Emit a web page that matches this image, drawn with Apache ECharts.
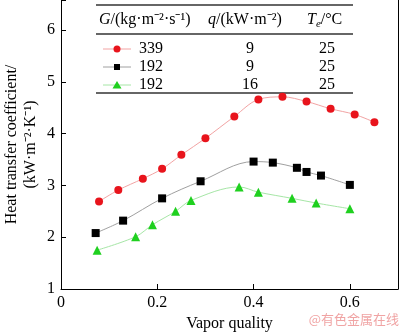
<!DOCTYPE html>
<html>
<head>
<meta charset="utf-8">
<script src="https://cdn.jsdelivr.net/npm/echarts@6/dist/echarts.min.js"></script>
<style>
  html, body { margin: 0; padding: 0; background: #fff; }
  #chart { width: 400px; height: 333px; }
</style>
</head>
<body>
<div id="chart"></div>
<script>
// Vapor quality (x) and heat transfer coefficient (kW·m^-2·K^-1) for each test condition
const qualityA = [0.079, 0.119, 0.170, 0.210, 0.250, 0.300, 0.360, 0.410, 0.460, 0.510, 0.560, 0.610, 0.651];
const htcA     = [2.69, 2.91, 3.13, 3.32, 3.59, 3.91, 4.33, 4.66, 4.71, 4.62, 4.48, 4.37, 4.22];

const qualityB = [0.072, 0.129, 0.210, 0.290, 0.400, 0.440, 0.490, 0.510, 0.540, 0.600];
const htcB     = [2.08, 2.32, 2.75, 3.08, 3.46, 3.44, 3.34, 3.26, 3.19, 3.01];

const qualityC = [0.075, 0.155, 0.190, 0.238, 0.270, 0.370, 0.410, 0.480, 0.530, 0.600];
const htcC     = [1.75, 2.01, 2.24, 2.50, 2.71, 2.97, 2.87, 2.75, 2.66, 2.55];

// Uncertainty bar on one point of the G = 192, q = 9 series
const errQuality = [0.490];
const errLow     = [3.30];
const errHigh    = [3.40];

// Legend table rows: G, q, Te
const massFlux = ['339', '192', '192'];
const heatFlux = ['9', '9', '16'];
const satTemp  = ['25', '25', '25'];

const xTicks = [0, 0.2, 0.4, 0.6];
const yTicks = [1, 2, 3, 4, 5, 6];

const zip = (xs, ys) => xs.map((x, i) => [x, ys[i]]);

const serif = 'Liberation Serif';
const markerColors = ['#e8141c', '#000000', '#1fd01f'];
const lineColors = ['#f2a3a3', '#a0a0a0', '#a6e6a6'];
const symbols = ['circle', 'rect', 'triangle'];
const symbolSizes = [8, 8, 9];

const chart = echarts.init(document.getElementById('chart'));

// Legend table drawn as graphics
const tableLeft = 96, tableRight = 353;
const rowY = [49, 67, 85];
const graphics = [
  { type: 'line', shape: { x1: tableLeft, y1: 5, x2: tableRight, y2: 5 }, style: { stroke: '#333', lineWidth: 1.5 } },
  { type: 'line', shape: { x1: tableLeft, y1: 34, x2: tableRight, y2: 34 }, style: { stroke: '#333', lineWidth: 1.5 } },
  { type: 'line', shape: { x1: tableLeft, y1: 93, x2: tableRight, y2: 93 }, style: { stroke: '#333', lineWidth: 1.5 } },
  {
    type: 'text', left: 99, top: 12,
    style: {
      text: '{i|G}/(kg·m⁻²·s⁻¹)', font: '16px ' + serif, fill: '#000',
      rich: { i: { fontStyle: 'italic', fontFamily: serif, fontSize: 16 } }
    }
  },
  {
    type: 'text', left: 208, top: 12,
    style: {
      text: '{i|q}/(kW·m⁻²)', font: '16px ' + serif, fill: '#000',
      rich: { i: { fontStyle: 'italic', fontFamily: serif, fontSize: 16 } }
    }
  },
  {
    type: 'text', left: 307, top: 12,
    style: {
      text: '{i|T}{s|e}/°C', font: '16px ' + serif, fill: '#000',
      rich: {
        i: { fontStyle: 'italic', fontFamily: serif, fontSize: 16 },
        s: { fontStyle: 'italic', fontFamily: serif, fontSize: 11, padding: [8, 0, 0, 0] }
      }
    }
  }
];
for (let r = 0; r < 3; r++) {
  const y = rowY[r];
  graphics.push({ type: 'line', shape: { x1: 103, y1: y, x2: 131, y2: y }, style: { stroke: lineColors[r], lineWidth: 1 } });
  if (symbols[r] === 'circle') {
    graphics.push({ type: 'circle', shape: { cx: 117, cy: y, r: 3.5 }, style: { fill: markerColors[r] } });
  } else if (symbols[r] === 'rect') {
    graphics.push({ type: 'rect', shape: { x: 114, y: y - 3, width: 6, height: 6 }, style: { fill: markerColors[r] } });
  } else {
    graphics.push({ type: 'polygon', shape: { points: [[117, y - 4], [121.5, y + 3.5], [112.5, y + 3.5]] }, style: { fill: markerColors[r] } });
  }
  graphics.push({ type: 'text', x: 139, y: y, style: { text: massFlux[r], font: '16px ' + serif, fill: '#000', textVerticalAlign: 'middle', verticalAlign: 'middle' } });
  graphics.push({ type: 'text', x: 250, y: y, style: { text: heatFlux[r], font: '16px ' + serif, fill: '#000', align: 'center', textAlign: 'center', verticalAlign: 'middle', textVerticalAlign: 'middle' } });
  graphics.push({ type: 'text', x: 327, y: y, style: { text: satTemp[r], font: '16px ' + serif, fill: '#000', align: 'center', textAlign: 'center', verticalAlign: 'middle', textVerticalAlign: 'middle' } });
}
// Source mark at the bottom right
graphics.push({
  type: 'text', right: 1, top: 313,
  style: { text: '@有色金属在线', font: '13px "Noto Sans CJK SC"', fill: '#f0a4a4' }
});

const makeSeries = (name, data, idx) => ({
  name: name,
  type: 'line',
  smooth: 0.35,
  data: data,
  symbol: symbols[idx],
  symbolSize: symbolSizes[idx],
  showSymbol: true,
  itemStyle: { color: markerColors[idx] },
  lineStyle: { color: lineColors[idx], width: 1 },
  z: 3 + idx
});

chart.setOption({
  animation: false,
  backgroundColor: '#fff',
  grid: { left: 61, right: 2, top: 0, bottom: 44, containLabel: false, outerBoundsMode: 'none' },
  xAxis: [{
    type: 'value', min: 0, max: 0.7, interval: 0.2,
    name: 'Vapor quality', nameLocation: 'middle', nameGap: 25,
    nameTextStyle: { fontFamily: serif, fontSize: 16, color: '#000' },
    axisLine: { show: true, lineStyle: { color: '#000', width: 1 } },
    axisTick: { show: true, inside: true, length: 5, lineStyle: { color: '#000' } },
    axisLabel: {
      fontFamily: serif, fontSize: 16, color: '#000', margin: 6,
      formatter: v => xTicks.some(t => Math.abs(t - v) < 1e-9) ? String(+v.toFixed(1)) : ''
    },
    splitLine: { show: false }
  }],
  yAxis: [{
    type: 'value', min: 1, max: 6.58, interval: 1,
    name: 'Heat transfer coefficient/\n(kW·m⁻²·K⁻¹)', nameLocation: 'middle', nameGap: 21, nameRotate: 90,
    nameMoveOverlap: false,
    nameTextStyle: { fontFamily: serif, fontSize: 16, color: '#000', lineHeight: 19 },
    axisLine: { show: true, lineStyle: { color: '#000', width: 1 } },
    axisTick: { show: true, inside: true, length: 5, lineStyle: { color: '#000' } },
    axisLabel: {
      fontFamily: serif, fontSize: 16, color: '#000', margin: 6,
      formatter: v => yTicks.includes(v) ? String(v) : ''
    },
    splitLine: { show: false }
  }, {
    type: 'value', min: 1, max: 6.58, interval: 1, position: 'right',
    axisLine: { show: true, onZero: false, lineStyle: { color: '#000' } },
    axisTick: { show: false }, axisLabel: { show: false }, splitLine: { show: false }
  }],
  series: [
    makeSeries('339-9', zip(qualityA, htcA), 0),
    makeSeries('192-9', zip(qualityB, htcB), 1),
    makeSeries('192-16', zip(qualityC, htcC), 2),
    {
      name: 'error',
      type: 'custom',
      data: errQuality.map((x, i) => [x, errLow[i], errHigh[i]]),
      z: 2,
      renderItem: (params, api) => {
        const lo = api.coord([api.value(0), api.value(1)]);
        const hi = api.coord([api.value(0), api.value(2)]);
        const w = 3;
        return {
          type: 'group',
          children: [
            { type: 'line', shape: { x1: lo[0], y1: lo[1], x2: hi[0], y2: hi[1] }, style: { stroke: '#000', lineWidth: 1 } },
            { type: 'line', shape: { x1: hi[0] - w, y1: hi[1], x2: hi[0] + w, y2: hi[1] }, style: { stroke: '#000', lineWidth: 1 } },
            { type: 'line', shape: { x1: lo[0] - w, y1: lo[1], x2: lo[0] + w, y2: lo[1] }, style: { stroke: '#000', lineWidth: 1 } }
          ]
        };
      }
    }
  ],
  graphic: graphics
});
</script>
</body>
</html>
